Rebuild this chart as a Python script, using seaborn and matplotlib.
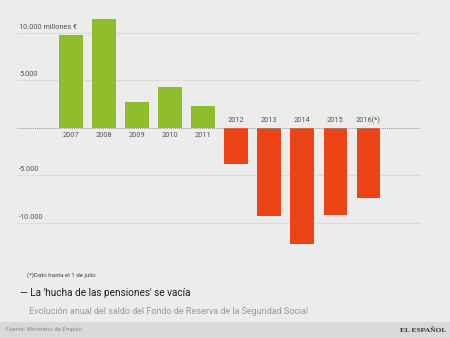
import matplotlib
matplotlib.use("Agg")
import matplotlib.pyplot as plt
from matplotlib.patches import Rectangle
import seaborn as sns
import pandas as pd

# Annual balance of the Social Security Reserve Fund (million €)
years = ["2007", "2008", "2009", "2010", "2011", "2012", "2013", "2014", "2015", "2016(*)"]
saldo = [9800, 11500, 2700, 4300, 2350, -3800, -9300, -12200, -9200, -7400]
y_ticks = [10000, 5000, -5000, -10000]
y_tick_labels = ["10.000 millones €", "5.000", "-5.000", "-10.000"]

GREEN = "#8fbd2c"
RED = "#ec4416"
BG = "#ececec"

sns.set_theme(style="white")
plt.rcParams["font.family"] = ["Roboto", "DejaVu Sans"]

df = pd.DataFrame({"year": years, "saldo": saldo})
df["signo"] = ["pos" if v >= 0 else "neg" for v in saldo]

fig = plt.figure(figsize=(4.5, 3.38), dpi=100)
fig.patch.set_facecolor(BG)
ax = fig.add_axes([17 / 450, 1 - 255 / 338, 403 / 450, 245 / 338])
ax.set_facecolor(BG)

# horizontal gridlines and dotted baseline
for t in y_ticks:
    ax.axhline(t, color="#dcdcdc", lw=0.8, zorder=0)
ax.axhline(0, color="#9a9a9a", lw=0.7, ls=(0, (1, 1)), zorder=3)

sns.barplot(data=df, x="year", y="saldo", hue="signo",
            palette={"pos": GREEN, "neg": RED}, dodge=False,
            width=0.716, legend=False, ax=ax, zorder=2,
            saturation=1, linewidth=0)

ax.set_xlim(-1.63, 10.56)
ax.set_ylim(-13370, 12420)
ax.set_xticks([])
ax.set_yticks([])
ax.set_xlabel("")
ax.set_ylabel("")
for s in ax.spines.values():
    s.set_visible(False)

# year labels on the opposite side of each bar
for i, (yr, v) in enumerate(zip(years, saldo)):
    ypos = -840 if v >= 0 else 780
    ax.text(i, ypos, yr, ha="center", va="center", fontsize=5.3, color="#555555", zorder=4)

# value labels sitting on the gridlines
for t, lab in zip(y_ticks, y_tick_labels):
    ax.text(-1.57, t + 250, lab, ha="left", va="bottom", fontsize=5.3, color="#555555")

# notes, title and footer
fig.text(27 / 450, 1 - 275 / 338, "(*)Dato hasta el 1 de julio", fontsize=4.4,
         color="#444444", va="center", ha="left")
fig.text(20 / 450, 1 - 293.5 / 338, "— La 'hucha de las pensiones' se vacía", fontsize=7.2,
         color="#1e1e1e", va="center", ha="left")
fig.text(29 / 450, 1 - 312 / 338, "Evolución anual del saldo del Fondo de Reserva de la Seguridad Social",
         fontsize=6.5, color="#9a9a9a", va="center", ha="left")
fig.patches.append(Rectangle((0, 0), 1, 16 / 338, transform=fig.transFigure,
                             facecolor="#d9d9d9", edgecolor="none", zorder=0))
fig.text(6 / 450, 1 - 330 / 338, "Fuente: Ministerio de Empleo", fontsize=4.2,
         color="#8a8a8a", va="center", ha="left")
fig.text(446 / 450, 1 - 330 / 338, "EL ESPAÑOL", fontsize=5.4, family="Liberation Serif",
         color="#333333", va="center", ha="right", fontweight="bold", fontstretch="condensed")

fig.savefig("out.png", dpi=100, facecolor=BG)
